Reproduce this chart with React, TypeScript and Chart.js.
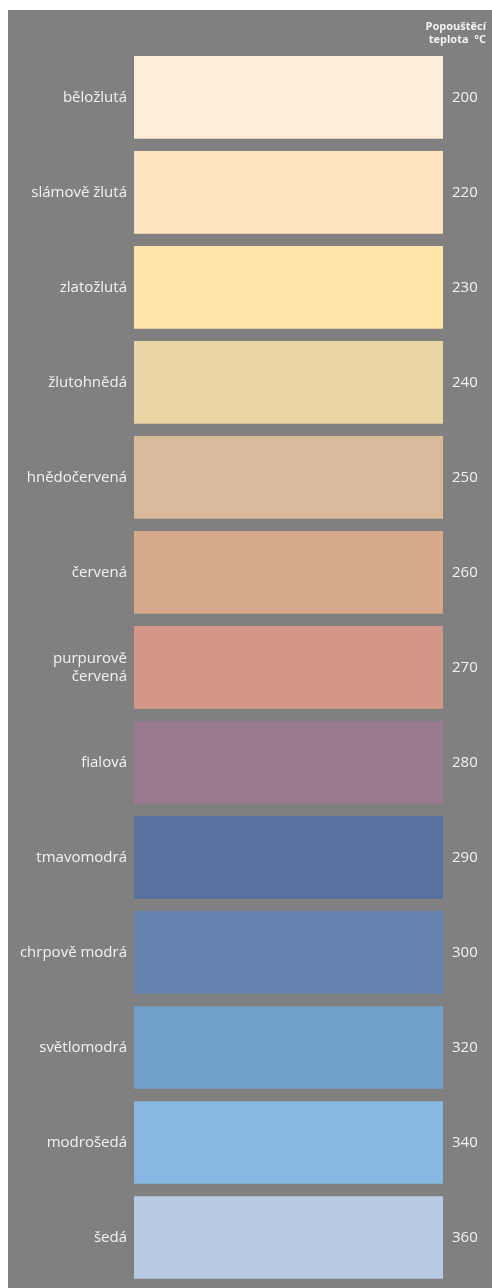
import React, { useEffect, useRef } from 'react';
import { Chart, registerables } from 'chart.js';

Chart.register(...registerables);

const colorNames: (string | string[])[] = [
  'běložlutá',
  'slámově žlutá',
  'zlatožlutá',
  'žlutohnědá',
  'hnědočervená',
  'červená',
  ['purpurově', 'červená'],
  'fialová',
  'tmavomodrá',
  'chrpově modrá',
  'světlomodrá',
  'modrošedá',
  'šedá',
];

const temperatures: string[] = ['200', '220', '230', '240', '250', '260', '270', '280', '290', '300', '320', '340', '360'];

const swatchValues: number[] = [1, 1, 1, 1, 1, 1, 1, 1, 1, 1, 1, 1, 1];

const swatchColors: string[] = [
  '#FEEDD9',
  '#FEE4C1',
  '#FEE3AA',
  '#E9D4A4',
  '#D8B999',
  '#D6A98A',
  '#D49689',
  '#9A7B8D',
  '#57709F',
  '#6482AE',
  '#72A0CB',
  '#86B8E2',
  '#B8CAE1',
];

const headerLines: string[] = ['Popouštěcí', 'teplota  °C'];

const TEXT = '#f2f2f2';
const BG = '#808080';

export default function App() {
  const ref = useRef<HTMLCanvasElement | null>(null);

  useEffect(() => {
    if (!ref.current) return;
    const chart = new Chart(ref.current, {
      type: 'bar',
      data: {
        labels: colorNames as any,
        datasets: [
          {
            data: swatchValues,
            backgroundColor: swatchColors,
            borderWidth: 0,
            barPercentage: 0.87,
            categoryPercentage: 1,
          },
        ],
      },
      options: {
        indexAxis: 'y',
        animation: false,
        responsive: true,
        maintainAspectRatio: false,
        layout: { padding: { left: 0, right: 6, top: 0, bottom: 3 } },
        plugins: {
          legend: { display: false },
          tooltip: { enabled: false },
          title: {
            display: true,
            text: headerLines,
            align: 'end',
            color: TEXT,
            font: { family: 'Open Sans', size: 11, weight: 'bold', lineHeight: 13 / 11 },
            padding: { top: 10, bottom: 3.8 },
          },
        },
        scales: {
          x: {
            display: false,
            min: 0,
            max: 1,
            grid: { display: false },
          },
          y: {
            position: 'left',
            offset: true,
            grid: { display: false, drawTicks: false },
            border: { display: false },
            ticks: {
              color: TEXT,
              padding: 7,
              font: { family: 'Open Sans', size: 15, lineHeight: 1.2 },
            },
            afterFit: (s: any) => {
              s.width = 126;
              s.paddingTop = 0;
              s.paddingBottom = 0;
            },
          },
          y2: {
            type: 'category',
            position: 'right',
            labels: temperatures,
            offset: true,
            grid: { display: false, drawTicks: false },
            border: { display: false },
            ticks: {
              color: TEXT,
              padding: 9,
              font: { family: 'Open Sans', size: 15, lineHeight: 1.2 },
            },
            afterFit: (s: any) => {
              s.width = 43;
              s.paddingTop = 0;
              s.paddingBottom = 0;
            },
          },
        },
      } as any,
    });
    return () => chart.destroy();
  }, []);

  return (
    <div
      style={{
        position: 'fixed',
        left: 8,
        top: 10,
        width: 484,
        height: 1278,
        background: BG,
      }}
    >
      <canvas ref={ref} />
    </div>
  );
}
